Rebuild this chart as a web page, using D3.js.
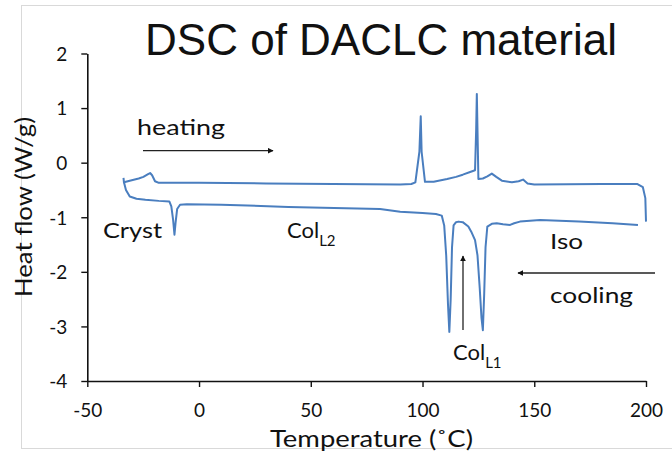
<!DOCTYPE html>
<html>
<head>
<meta charset="utf-8">
<script src="https://cdn.jsdelivr.net/npm/d3@7"></script>
<style>
  body { margin: 0; background: #fff; }
  svg { display: block; }
  .lbl { font-family: Lato, 'Open Sans', sans-serif; fill: #111; }
</style>
</head>
<body>
<div id="chart"></div>
<script>
// heating run (upper trace)
const heatingTemp = [-33.8, -33.6, -31, -27, -24.9, -22.8, -21.9, -21, -19.7, -18, 0, 30, 60, 90, 95, 96.8,
  98.6, 99.2, 99.6, 101.1, 105, 111, 115, 118, 121.3, 123.5, 124.0, 124.3, 125.0, 127, 129, 131, 133,
  135.5, 140, 143, 145, 147, 150, 180, 196, 198.6, 199.7, 200]
const heatingFlow = [-0.28, -0.36, -0.33, -0.29, -0.26, -0.21, -0.19, -0.23, -0.34, -0.37, -0.37, -0.38,
  -0.39, -0.40, -0.39, -0.36, 0.2, 0.85, 0.2, -0.35, -0.35, -0.30, -0.26, -0.22, -0.17, -0.14, 0.6, 1.26,
  -0.30, -0.29, -0.25, -0.20, -0.26, -0.33, -0.36, -0.34, -0.31, -0.38, -0.40, -0.39, -0.39, -0.45, -0.65, -1.08]

// cooling run (lower trace)
const coolingTemp = [-33.6, -32.7, -31, -28, -24, -18, -13.3, -12.4, -11.6, -11.0, -10.5, -9.8, -8.5, -5.5,
  10, 40, 81, 90, 100, 106, 108.6, 109.7, 110.6, 111.4, 112.0, 112.6, 113.2, 113.9, 115, 116.1, 118, 120.5,
  122, 123.5, 124.6, 125.6, 126.4, 127.0, 127.6, 128.2, 129.0, 131, 133.2, 136, 139.2, 141, 143.6, 152.6,
  170, 185, 196.4]
const coolingFlow = [-0.36, -0.50, -0.62, -0.66, -0.68, -0.70, -0.71, -0.80, -1.05, -1.32, -1.10, -0.85,
  -0.77, -0.76, -0.77, -0.81, -0.85, -0.90, -0.92, -0.94, -0.97, -1.15, -1.70, -2.60, -3.10, -2.50, -1.55,
  -1.15, -1.09, -1.08, -1.09, -1.17, -1.28, -1.42, -1.70, -2.30, -2.85, -3.07, -2.40, -1.55, -1.17, -1.12,
  -1.11, -1.13, -1.14, -1.11, -1.08, -1.05, -1.08, -1.11, -1.14]

const xTicks = [-50, 0, 50, 100, 150, 200]
const yTicks = [-4, -3, -2, -1, 0, 1, 2]

const W = 672, H = 455
const svg = d3.select('#chart').append('svg').attr('width', W).attr('height', H)

// light frame of the chart area
svg.append('rect')
  .attr('x', 21.5).attr('y', 5.5).attr('width', 700).attr('height', 443)
  .attr('fill', 'none').attr('stroke', '#d9d9d9')

const x = d3.scaleLinear().domain([-50, 200]).range([87.3, 646])
const y = d3.scaleLinear().domain([-4, 2]).range([381, 53.5])

// squeeze a text node to a given width
const fit = (sel, w) => sel.attr('textLength', w).attr('lengthAdjust', 'spacingAndGlyphs')

// plain hyphen for negatives, like the original
const plain = d => String(d)

const xAxis = svg.append('g')
  .attr('transform', `translate(0,${y(-4)})`)
  .call(d3.axisBottom(x).tickValues(xTicks).tickSize(6).tickSizeOuter(0).tickFormat(plain))
const yAxis = svg.append('g')
  .attr('transform', `translate(${x(-50)},0)`)
  .call(d3.axisLeft(y).tickValues(yTicks).tickSize(6).tickSizeOuter(0).tickFormat(plain))

;[xAxis, yAxis].forEach(g => {
  g.select('.domain').attr('stroke', '#111').attr('stroke-width', 1.6)
  g.selectAll('.tick line').attr('stroke', '#111').attr('stroke-width', 1.4)
  g.selectAll('.tick text').attr('class', 'lbl').attr('font-size', 19).attr('fill', '#111')
})
xAxis.selectAll('.tick text').attr('y', 0).attr('dy', 36)
yAxis.selectAll('.tick text').attr('x', -20).attr('dy', '0.36em')

const line = d3.line().x(d => x(d[0])).y(d => y(d[1]))

const series = [d3.zip(heatingTemp, heatingFlow), d3.zip(coolingTemp, coolingFlow)]
svg.append('g').selectAll('path')
  .data(series)
  .join('path')
  .attr('d', line)
  .attr('fill', 'none')
  .attr('stroke', '#4a7ebf')
  .attr('stroke-width', 2)
  .attr('stroke-linejoin', 'round')

// title
svg.append('text')
  .attr('x', 381).attr('y', 55)
  .attr('text-anchor', 'middle')
  .attr('font-family', "'Liberation Sans', Arial, sans-serif")
  .attr('font-size', 44)
  .attr('fill', '#111')
  .text('DSC of DACLC material')

// axis titles
fit(svg.append('text').attr('class', 'lbl')
  .attr('x', 270).attr('y', 447).attr('font-size', 24)
  .text('Temperature  (\u02DAC)'), 203)

fit(svg.append('text').attr('class', 'lbl')
  .attr('transform', 'translate(32,297) rotate(-90)')
  .attr('font-size', 24)
  .text('Heat flow (W/g)'), 180)

// annotations
const note = (tx, ty, txt, w, size = 22) =>
  fit(svg.append('text').attr('class', 'lbl').attr('x', tx).attr('y', ty).attr('font-size', size).text(txt), w)

note(137, 135, 'heating', 88)
note(103, 238, 'Cryst', 59)
note(550, 249, 'Iso', 33)
note(550, 303, 'cooling', 83)

const phase = (tx, ty, sub) => {
  const t = svg.append('text').attr('class', 'lbl').attr('x', tx).attr('y', ty).attr('font-size', 22)
  t.append('tspan').text('Col')
  t.append('tspan').attr('font-size', 15).attr('dy', 8).text(sub)
}
phase(287, 238, 'L2')
phase(453, 360, 'L1')

svg.append('defs').append('marker')
  .attr('id', 'head')
  .attr('viewBox', '0 0 10 10')
  .attr('refX', 9).attr('refY', 5)
  .attr('markerWidth', 6).attr('markerHeight', 6)
  .attr('markerUnits', 'userSpaceOnUse')
  .attr('orient', 'auto')
  .append('path').attr('d', 'M0,0L10,5L0,10Z').attr('fill', '#111')

const arrow = (x1, y1, x2, y2) => svg.append('line')
  .attr('x1', x1).attr('y1', y1).attr('x2', x2).attr('y2', y2)
  .attr('stroke', '#222').attr('stroke-width', 1.3)
  .attr('marker-end', 'url(#head)')

arrow(143, 150.7, 273, 150.7)
arrow(655, 273, 518, 273)
arrow(463, 330, 463, 256)
</script>
</body>
</html>
